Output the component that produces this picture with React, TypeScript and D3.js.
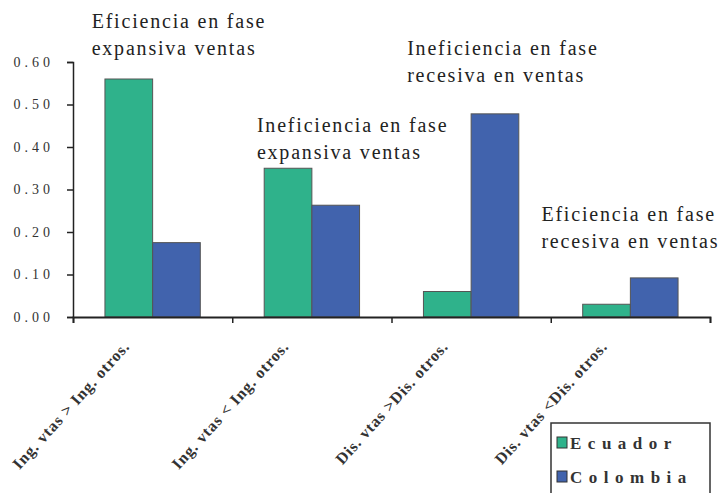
import React, { useEffect, useRef } from 'react';
import * as d3 from 'd3';

const categories = ['Ing. vtas > Ing. otros.', 'Ing. vtas < Ing. otros.', 'Dis. vtas >Dis. otros.', 'Dis. vtas <Dis. otros.'];
const seriesNames = ['Ecuador', 'Colombia'];
const ecuador = [0.56, 0.35, 0.06, 0.03];
const colombia = [0.175, 0.263, 0.478, 0.092];
const yTicks = [0, 0.1, 0.2, 0.3, 0.4, 0.5, 0.6];
const notes = [
    { cat: 0, lines: ['Eficiencia en fase', 'expansiva ventas'], dx: -61, y: 28 },
    { cat: 1, lines: ['Ineficiencia en fase', 'expansiva ventas'], dx: -55, y: 132 },
    { cat: 2, lines: ['Ineficiencia en fase', 'recesiva en ventas'], dx: -64, y: 55 },
    { cat: 3, lines: ['Eficiencia en fase', 'recesiva en ventas'], dx: -89, y: 221 },
];

export default function App() {
    const svgRef = useRef<SVGSVGElement>(null);

    const width = 718;
    const height = 493;
    const margin = { top: 62, right: 8, bottom: 176, left: 73 };
    const innerWidth = width - margin.left - margin.right;
    const innerHeight = height - margin.top - margin.bottom;

    useEffect(() => {
        const svg = d3.select(svgRef.current);
        svg.selectAll('*').remove();

        const colors = d3.scaleOrdinal<string>().domain(seriesNames).range(['#2fb28b', '#4163ad']);

        const x = d3.scaleBand().domain(categories).range([0, innerWidth]).paddingInner(0).paddingOuter(0);
        const xSub = d3.scaleBand().domain(seriesNames).range([0, x.bandwidth()]).paddingOuter(0.67).paddingInner(0);
        const y = d3.scaleLinear().domain([0, 0.6]).range([innerHeight, 0]);

        const g = svg.append('g').attr('transform', `translate(${margin.left},${margin.top})`);

        const rows = categories.map((c, i) => ({ cat: c, Ecuador: ecuador[i], Colombia: colombia[i] }));

        // bars
        g.selectAll('g.cat')
            .data(rows)
            .enter()
            .append('g')
            .attr('transform', d => `translate(${x(d.cat)},0)`)
            .selectAll('rect')
            .data(d => seriesNames.map(s => ({ key: s, value: (d as any)[s] as number })))
            .enter()
            .append('rect')
            .attr('x', d => xSub(d.key)!)
            .attr('y', d => y(d.value))
            .attr('width', xSub.bandwidth())
            .attr('height', d => innerHeight - y(d.value))
            .attr('fill', d => colors(d.key))
            .attr('stroke', '#555')
            .attr('stroke-width', 1);

        // y axis
        const yAxis = g.append('g')
            .call(d3.axisLeft(y).tickValues(yTicks).tickSize(6).tickFormat(d3.format('.2f')));
        yAxis.select('.domain').attr('stroke', '#222').attr('stroke-width', 1.5);
        yAxis.selectAll('line').attr('stroke', '#222').attr('stroke-width', 1.5);
        yAxis.selectAll('text')
            .attr('x', -19)
            .style('font-family', 'Liberation Serif, serif')
            .style('font-size', '14px')
            .style('letter-spacing', '4px')
            .attr('fill', '#333');

        // x axis
        const xAxis = g.append('g')
            .attr('transform', `translate(0,${innerHeight})`)
            .call(d3.axisBottom(d3.scaleLinear().domain([0, 4]).range([0, innerWidth]))
                .tickValues([0, 1, 2, 3, 4]).tickSize(6).tickFormat(() => ''));
        xAxis.select('.domain').attr('stroke', '#222').attr('stroke-width', 1.8);
        xAxis.selectAll('line').attr('stroke', '#222').attr('stroke-width', 1.5);

        // rotated category labels
        g.selectAll('text.cat')
            .data(categories)
            .enter()
            .append('text')
            .attr('transform', d => `translate(${x(d)! + x.bandwidth() / 2 - 22},${innerHeight + 30}) rotate(-48)`)
            .attr('text-anchor', 'end')
            .style('font-family', 'Liberation Serif, serif')
            .style('font-size', '16px')
            .style('font-weight', 'bold')
            .style('letter-spacing', '0.9px')
            .attr('fill', '#333')
            .text(d => d);

        // annotations
        notes.forEach(n => {
            const t = g.append('text')
                .attr('x', x(categories[n.cat])! + x.bandwidth() / 2 + n.dx)
                .attr('y', n.y - margin.top)
                .style('font-family', 'Liberation Serif, serif')
                .style('font-size', '20px')
                .style('letter-spacing', '1.8px')
                .attr('fill', '#222');
            n.lines.forEach((l, i) => {
                t.append('tspan')
                    .attr('x', x(categories[n.cat])! + x.bandwidth() / 2 + n.dx)
                    .attr('dy', i === 0 ? 0 : 27)
                    .text(l);
            });
        });

        // legend
        const lg = svg.append('g').attr('transform', 'translate(551,423)');
        lg.append('rect')
            .attr('width', 159)
            .attr('height', 80)
            .attr('fill', '#fff')
            .attr('stroke', '#333')
            .attr('stroke-width', 1.5);
        seriesNames.forEach((s, i) => {
            lg.append('rect')
                .attr('x', 6)
                .attr('y', 14 + i * 34)
                .attr('width', 10)
                .attr('height', 11)
                .attr('fill', colors(s))
                .attr('stroke', '#333');
            lg.append('text')
                .attr('x', 19)
                .attr('y', 26 + i * 34)
                .style('font-family', 'Liberation Serif, serif')
                .style('font-size', '17px')
                .style('font-weight', 'bold')
                .style('letter-spacing', '6.5px')
                .attr('fill', '#333')
                .text(s);
        });
    }, []);

    return (
        <svg ref={svgRef} width={width} height={height}
            style={{ position: 'absolute', left: 0, top: 0, background: '#fff' }} />
    );
}
